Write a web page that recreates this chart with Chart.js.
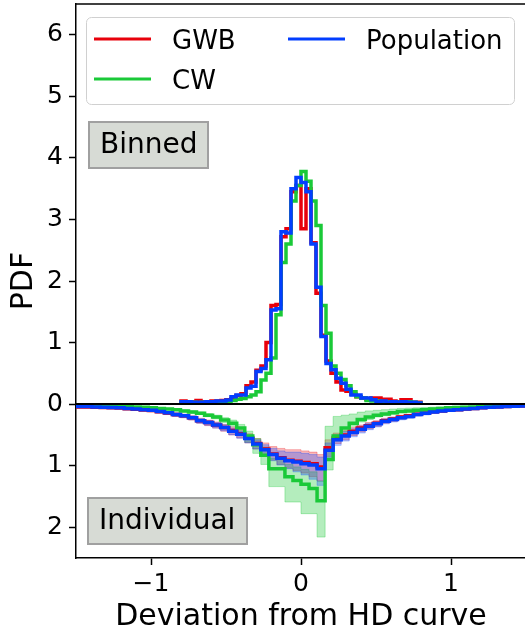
<!DOCTYPE html>
<html><head><meta charset="utf-8">
<script src="https://cdn.jsdelivr.net/npm/chart.js@4.4.1/dist/chart.umd.min.js"></script>
<style>
html,body{margin:0;padding:0;background:#fff;overflow:hidden;width:525px;height:634px}
#wrap{width:525px;height:634px;overflow:hidden;position:relative}
canvas{display:block}
</style>
</head><body><div id="wrap"><canvas id="c" width="530" height="634" style="width:530px;height:634px"></canvas></div>
<script>
// ---- data ----
const seriesNames = ['GWB', 'CW', 'Population'];
const xTickValues = [-1, 0, 1];
const yTickValues = [-2, -1, 0, 1, 2, 3, 4, 5, 6];
const boxLabels = ['Binned', 'Individual'];

// Binned histograms: 48 bins from -0.8 to 0.8
const binnedStart = -0.8, binnedEnd = 0.8, binnedCount = 48;
const binnedGWB = [0.05,0.04,0.04,0.06,0.04,0.03,0.05,0.05,0.06,0.07, 0.09,0.14,0.17,0.30,0.36,0.55,0.62,1.00,1.60,1.62, 2.72,2.85,3.45,3.55,2.85,3.50,2.62,1.80,1.12,0.70, 0.50,0.36,0.23,0.21,0.16,0.12,0.10,0.08,0.10,0.10, 0.08,0.08,0.05,0.04,0.07,0.07,0.03,0.03];
const binnedCW  = [0.02,0.02,0.03,0.02,0.03,0.03,0.02,0.03,0.03,0.04, 0.06,0.08,0.09,0.12,0.15,0.20,0.39,0.50,0.75,1.45, 2.30,2.60,3.30,3.55,3.78,3.62,3.30,2.90,1.60,1.15, 0.62,0.50,0.40,0.30,0.20,0.12,0.10,0.06,0.05,0.05, 0.04,0.04,0.04,0.03,0.04,0.04,0.03,0.02];
const binnedPop = [0.04,0.04,0.03,0.03,0.03,0.04,0.04,0.05,0.05,0.065, 0.12,0.15,0.15,0.26,0.29,0.53,0.58,0.72,1.53,1.55, 2.80,2.78,3.50,3.68,3.60,3.45,2.60,1.90,1.10,0.66, 0.56,0.42,0.34,0.24,0.15,0.15,0.10,0.10,0.07,0.04, 0.05,0.03,0.04,0.03,0.04,0.03,0.03,0.02];

// Individual curves (drawn downward): 56 bins from -1.5 to 1.5
const indStart = -1.5, indEnd = 1.5, indCount = 56;
const gwbInd   = [0.045,0.045,0.05,0.055,0.06,0.065,0.075,0.085, 0.095,0.105,0.125,0.145,0.17,0.19,0.22,0.27, 0.30,0.34,0.38,0.43,0.48,0.55,0.64,0.73, 0.81,0.87,0.91,0.93,0.95,0.97,1.02,0.71, 0.55,0.50,0.44,0.39,0.35,0.31,0.27,0.24, 0.21,0.19,0.165,0.145,0.125,0.11,0.10,0.09, 0.08,0.07,0.06,0.05,0.045,0.04,0.035,0.03];
const gwbIndLo = [0.035,0.035,0.04,0.045,0.05,0.055,0.06,0.07, 0.08,0.09,0.105,0.125,0.145,0.165,0.19,0.23, 0.26,0.29,0.33,0.37,0.42,0.48,0.56,0.63, 0.69,0.72,0.74,0.74,0.76,0.78,0.82,0.58, 0.47,0.43,0.38,0.34,0.30,0.27,0.23,0.21, 0.18,0.165,0.14,0.125,0.105,0.095,0.085,0.075, 0.065,0.06,0.05,0.042,0.038,0.033,0.03,0.025];
const gwbIndHi = [0.06,0.06,0.065,0.07,0.075,0.08,0.09,0.10, 0.11,0.125,0.145,0.17,0.20,0.22,0.26,0.31, 0.35,0.39,0.44,0.50,0.55,0.63,0.73,0.83, 0.91,0.98,1.04,1.08,1.12,1.18,1.25,0.85, 0.64,0.58,0.51,0.45,0.40,0.36,0.31,0.28, 0.245,0.22,0.19,0.17,0.145,0.125,0.115,0.105, 0.095,0.08,0.07,0.06,0.055,0.05,0.045,0.04];
const cwInd    = [0.02,0.02,0.025,0.03,0.03,0.035,0.04,0.045, 0.05,0.06,0.07,0.08,0.09,0.11,0.13,0.15, 0.18,0.21,0.26,0.31,0.39,0.52,0.66,0.83, 1.05,1.05,1.18,1.24,1.30,1.37,1.57,0.90, 0.52,0.39,0.31,0.25,0.21,0.18,0.16,0.14, 0.12,0.11,0.10,0.09,0.08,0.07,0.06,0.055, 0.05,0.045,0.04,0.035,0.03,0.03,0.025,0.02];
const cwIndLo  = [0.015,0.015,0.02,0.025,0.025,0.03,0.035,0.038, 0.042,0.05,0.06,0.07,0.078,0.095,0.11,0.13, 0.155,0.18,0.22,0.26,0.33,0.44,0.56,0.70, 0.88,0.90,0.98,1.02,1.06,1.10,1.25,0.36, 0.20,0.18,0.16,0.13,0.11,0.10,0.09,0.08, 0.07,0.065,0.06,0.055,0.05,0.045,0.04,0.035, 0.03,0.03,0.025,0.02,0.02,0.02,0.015,0.015];
const cwIndHi  = [0.025,0.025,0.03,0.035,0.035,0.04,0.045,0.052, 0.058,0.07,0.08,0.09,0.10,0.125,0.15,0.17, 0.205,0.24,0.30,0.36,0.46,0.62,0.80,0.98, 1.34,1.34,1.59,1.59,1.78,1.78,2.16,1.07, 0.60,0.45,0.36,0.29,0.25,0.21,0.19,0.165, 0.14,0.13,0.12,0.105,0.095,0.085,0.07,0.065, 0.06,0.055,0.05,0.045,0.04,0.035,0.03,0.025];
const popInd   = [0.04,0.04,0.045,0.05,0.055,0.06,0.07,0.08, 0.09,0.10,0.12,0.14,0.17,0.19,0.22,0.27, 0.30,0.34,0.38,0.44,0.49,0.56,0.65,0.74, 0.82,0.88,0.92,0.94,0.97,0.99,1.05,0.75, 0.58,0.52,0.46,0.41,0.36,0.32,0.28,0.25, 0.22,0.20,0.17,0.15,0.13,0.11,0.10,0.09, 0.08,0.07,0.06,0.05,0.045,0.04,0.035,0.03];
const popIndLo = [0.03,0.03,0.035,0.04,0.045,0.05,0.055,0.065, 0.075,0.085,0.10,0.12,0.145,0.165,0.19,0.235, 0.265,0.30,0.335,0.39,0.44,0.50,0.58,0.66, 0.72,0.76,0.78,0.78,0.80,0.82,0.86,0.63, 0.50,0.45,0.40,0.355,0.31,0.28,0.24,0.215, 0.19,0.17,0.145,0.13,0.11,0.095,0.085,0.075, 0.065,0.06,0.05,0.04,0.037,0.033,0.03,0.025];
const popIndHi = [0.05,0.05,0.055,0.06,0.065,0.07,0.085,0.095, 0.105,0.12,0.14,0.165,0.20,0.22,0.255,0.31, 0.345,0.39,0.435,0.50,0.555,0.63,0.73,0.83, 0.92,0.99,1.05,1.10,1.15,1.22,1.32,0.88, 0.67,0.60,0.53,0.47,0.415,0.37,0.32,0.29, 0.255,0.23,0.195,0.175,0.15,0.13,0.115,0.105, 0.095,0.08,0.07,0.06,0.055,0.05,0.043,0.037];

// ---- styling ----
const COLORS = {GWB: '#e8000b', CW: '#1ac938', Population: '#023eff'};
const BANDS = {GWB: 'rgba(232,0,11,0.28)', CW: 'rgba(26,201,56,0.33)', Population: 'rgba(2,62,255,0.28)'};
const FONT = '"DejaVu Sans", "Liberation Sans", sans-serif';

function edges(start, end, n) {
  const e = [];
  for (let i = 0; i <= n; i++) e.push(start + (end - start) * i / n);
  return e;
}
const binnedEdges = edges(binnedStart, binnedEnd, binnedCount);
const indEdges = edges(indStart, indEnd, indCount);

// Each value holds from its left bin edge to the next edge (horizontal first, then vertical)
function stepPts(ed, vals, sign, closed) {
  const pts = [];
  if (closed) pts.push({x: ed[0], y: 0});
  vals.forEach((v, i) => pts.push({x: ed[i], y: sign * v}));
  pts.push({x: ed[ed.length - 1], y: sign * vals[vals.length - 1]});
  if (closed) pts.push({x: ed[ed.length - 1], y: 0});
  return pts;
}

const STEP = 'before';
const datasets = [];
function band(name, lo, hi, order) {
  datasets.push({label: name + ' band lo', data: stepPts(indEdges, lo, -1, false), stepped: STEP,
    borderColor: BANDS[name], borderWidth: 1, fill: false, pointRadius: 0, order: order});
  datasets.push({label: name + ' band hi', data: stepPts(indEdges, hi, -1, false), stepped: STEP,
    borderColor: BANDS[name], backgroundColor: BANDS[name], borderWidth: 1, fill: '-1', pointRadius: 0, order: order});
}
band('GWB', gwbIndLo, gwbIndHi, 12);
band('CW', cwIndLo, cwIndHi, 11);
band('Population', popIndLo, popIndHi, 10);

function line(name, pts, order) {
  datasets.push({label: name, data: pts, stepped: STEP, borderColor: COLORS[name], borderWidth: 3.5,
    fill: false, pointRadius: 0, order: order, borderJoinStyle: 'miter'});
}
line('GWB', stepPts(indEdges, gwbInd, -1, false), 6);
line('CW', stepPts(indEdges, cwInd, -1, false), 5);
line('Population', stepPts(indEdges, popInd, -1, false), 4);
line('GWB', stepPts(binnedEdges, binnedGWB, 1, true), 6);
line('CW', stepPts(binnedEdges, binnedCW, 1, true), 5);
line('Population', stepPts(binnedEdges, binnedPop, 1, true), 4);
datasets.push({label: 'zero', data: [{x: -1.5, y: 0}, {x: 1.5, y: 0}], borderColor: '#000', borderWidth: 2,
  pointRadius: 0, fill: false, order: 0});

const minus = v => (v < 0 ? '\u2212' + Math.abs(v) : String(v));

const overlay = {
  id: 'overlay',
  afterDraw(chart) {
    const ctx = chart.ctx, ca = chart.chartArea;
    ctx.save();
    // top spine
    ctx.strokeStyle = '#000'; ctx.lineWidth = 1.5;
    ctx.beginPath(); ctx.moveTo(ca.left, ca.top); ctx.lineTo(ca.right, ca.top); ctx.stroke();
    // legend
    const lx = 86.5, ly = 17.5, lw = 428, lh = 87, r = 5;
    ctx.beginPath();
    ctx.roundRect(lx, ly, lw, lh, r);
    ctx.fillStyle = 'rgba(255,255,255,0.8)'; ctx.fill();
    ctx.strokeStyle = '#d0d0d0'; ctx.lineWidth = 1; ctx.stroke();
    const entries = [
      {name: seriesNames[0], x: 94, y: 39},
      {name: seriesNames[2], x: 288, y: 39},
      {name: seriesNames[1], x: 94, y: 79}
    ];
    ctx.font = '26px ' + FONT; ctx.textBaseline = 'alphabetic'; ctx.textAlign = 'left';
    entries.forEach(e => {
      ctx.strokeStyle = COLORS[e.name]; ctx.lineWidth = 3;
      ctx.beginPath(); ctx.moveTo(e.x, e.y); ctx.lineTo(e.x + 57, e.y); ctx.stroke();
      ctx.fillStyle = '#000';
      ctx.fillText(e.name, e.x + 78, e.y + 10);
    });
    // text boxes
    const boxes = [
      {t: boxLabels[0], x: 89, y: 122, w: 119, h: 46, tx: 100, ty: 153},
      {t: boxLabels[1], x: 88, y: 498, w: 159, h: 46, tx: 99, ty: 529}
    ];
    ctx.font = '28px ' + FONT;
    boxes.forEach(b => {
      ctx.fillStyle = 'rgb(215,219,213)';
      ctx.fillRect(b.x, b.y, b.w, b.h);
      ctx.strokeStyle = 'rgb(160,160,160)'; ctx.lineWidth = 2;
      ctx.strokeRect(b.x, b.y, b.w, b.h);
      ctx.fillStyle = '#000';
      ctx.fillText(b.t, b.tx, b.ty);
    });
    ctx.restore();
  }
};

new Chart(document.getElementById('c'), {
  type: 'line',
  data: {datasets},
  options: {
    responsive: false, animation: false, devicePixelRatio: 1,
    layout: {padding: {left: 0, top: 4, right: 4, bottom: 0}},
    elements: {line: {tension: 0}, point: {radius: 0}},
    plugins: {legend: {display: false}, tooltip: {enabled: false}, filler: {propagate: false}},
    scales: {
      x: {
        type: 'linear', min: -1.5, max: 1.5,
        afterBuildTicks: s => { s.ticks = xTickValues.map(v => ({value: v})); },
        afterFit: s => { s.height = 76; s.paddingLeft = 0; s.paddingRight = 0; },
        ticks: {color: '#000', font: {family: FONT, size: 25}, padding: 4, callback: v => minus(v), maxRotation: 0},
        grid: {drawOnChartArea: false, drawTicks: true, tickLength: 7, tickColor: '#000', tickWidth: 1.5},
        border: {display: true, color: '#000', width: 1.5},
        title: {display: true, text: 'Deviation from HD curve', color: '#000', font: {family: FONT, size: 30, lineHeight: 1}, padding: {top: 0, bottom: 2}}
      },
      y: {
        type: 'linear', min: -2.5, max: 6.5,
        afterBuildTicks: s => { s.ticks = yTickValues.map(v => ({value: v})); },
        afterFit: s => { s.width = 76; s.paddingTop = 0; s.paddingBottom = 0; },
        ticks: {color: '#000', font: {family: FONT, size: 25}, padding: 6, callback: v => String(Math.abs(v))},
        grid: {drawOnChartArea: false, drawTicks: true, tickLength: 7, tickColor: '#000', tickWidth: 1.5},
        border: {display: true, color: '#000', width: 1.5},
        title: {display: true, text: 'PDF', color: '#000', font: {family: FONT, size: 30, lineHeight: 1}, padding: {top: 9, bottom: 0}}
      }
    }
  },
  plugins: [overlay]
});
</script></body></html>
